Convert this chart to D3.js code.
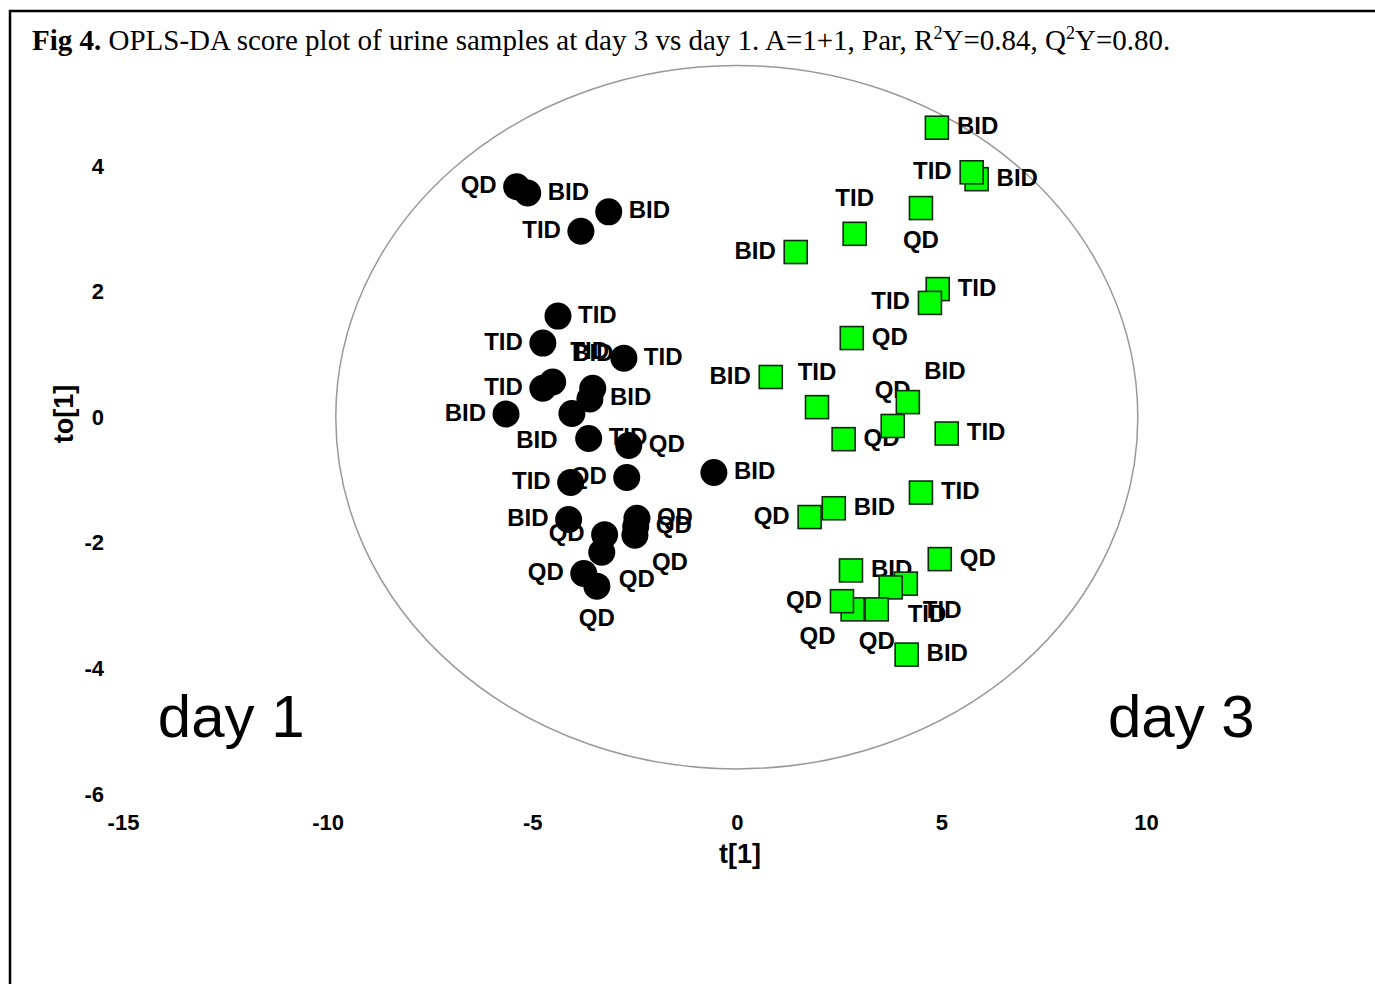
<!DOCTYPE html>
<html>
<head>
<meta charset="utf-8">
<script src="https://cdn.jsdelivr.net/npm/d3@7"></script>
<style>
  body { margin: 0; background: #fff; }
  .tick text { font-family: "Liberation Sans", Arial, sans-serif; font-weight: bold; font-size: 22px; fill: #000; }
  .lbl { font-family: "Liberation Sans", Arial, sans-serif; font-weight: bold; font-size: 24px; fill: #000; }
</style>
</head>
<body>
<script>
// day 1 samples (black circles)
var day1T  = [-5.38, -5.11, -3.13, -3.81, -4.37, -4.74, -2.76, -4.74, -4.50, -3.52, -3.59, -4.03, -5.64,
              -3.62, -2.64, -4.06, -2.69, -4.11, -3.23, -3.30, -2.44, -2.47, -2.49, -3.74, -3.42, -0.56];
var day1To = [3.67, 3.57, 3.27, 2.96, 1.61, 1.18, 0.94, 0.46, 0.56, 0.46, 0.29, 0.06, 0.05,
              -0.34, -0.45, -1.04, -0.96, -1.63, -1.87, -2.15, -1.61, -1.74, -1.88, -2.49, -2.69, -0.88];
var day1Lab = ["QD", "BID", "BID", "TID", "TID", "TID", "TID", "TID", "TID", "BID", "BID", "BID", "BID",
               "TID", "QD", "TID", "QD", "BID", "QD", "QD", "QD", "QD", "QD", "QD", "QD", "BID"];
var day1Side = ["W", "E", "E", "W", "E", "W", "E", "W", "NE", "N", "E", "SW", "W",
                "E", "E", "W", "W", "W", "W", "SE", "E", "E", "SE", "W", "S", "E"];

// day 3 samples (green squares)
var day3T  = [4.89, 5.86, 5.74, 4.50, 2.88, 1.44, 4.91, 4.72, 2.81, 0.83, 1.96, 4.18, 3.81,
              2.61, 5.13, 4.50, 2.37, 1.78, 4.96, 2.79, 4.13, 3.76, 2.83, 3.42, 2.57, 4.15];
var day3To = [4.61, 3.79, 3.90, 3.33, 2.92, 2.63, 2.04, 1.82, 1.26, 0.64, 0.16, 0.24, -0.14,
              -0.35, -0.26, -1.20, -1.45, -1.59, -2.26, -2.44, -2.65, -2.71, -3.06, -3.06, -2.93, -3.78];
var day3Lab = ["BID", "BID", "TID", "QD", "TID", "BID", "TID", "TID", "QD", "BID", "TID", "BID", "QD",
               "QD", "TID", "TID", "BID", "QD", "QD", "BID", "TID", "TID", "QD", "QD", "QD", "BID"];
var day3Side = ["E", "E", "W", "S", "N", "W", "E", "W", "E", "W", "N", "NE", "N",
                "E", "E", "E", "E", "W", "E", "E", "SE", "SE", "SW", "S", "W", "E"];

var xTicks = [-15, -10, -5, 0, 5, 10];
var yTicks = [-6, -4, -2, 0, 2, 4];

// 95% confidence ellipse half axes
var ellipseT = 9.8, ellipseTo = 5.6;

var width = 1375, height = 984;

var x = d3.scaleLinear().domain([-15, 10]).range([123, 1146]);
var y = d3.scaleLinear().domain([-6, 4]).range([794, 166]);

var svg = d3.select("body").append("svg")
  .attr("width", width)
  .attr("height", height);

// frame
svg.append("path")
  .attr("d", "M10,984 L10,11 L1375,11")
  .attr("fill", "none")
  .attr("stroke", "#000")
  .attr("stroke-width", 2.5);

// title
var title = svg.append("text")
  .attr("x", 32)
  .attr("y", 50)
  .style("font-family", "'Liberation Serif', 'Times New Roman', serif")
  .style("font-size", "29px");
title.append("tspan").style("font-weight", "bold").text("Fig 4.");
title.append("tspan").text(" OPLS-DA score plot of urine samples at day 3 vs day 1. A=1+1, Par, R");
title.append("tspan").attr("dy", -11).style("font-size", "18px").text("2");
title.append("tspan").attr("dy", 11).text("Y=0.84, Q");
title.append("tspan").attr("dy", -11).style("font-size", "18px").text("2");
title.append("tspan").attr("dy", 11).text("Y=0.80.");

// ellipse
svg.append("ellipse")
  .attr("cx", x(0))
  .attr("cy", y(0))
  .attr("rx", x(ellipseT) - x(0))
  .attr("ry", y(0) - y(ellipseTo))
  .attr("fill", "none")
  .attr("stroke", "#999")
  .attr("stroke-width", 1.5);

// axes (no lines, labels only)
var xAxis = svg.append("g")
  .attr("transform", "translate(0,806)")
  .call(d3.axisBottom(x).tickValues(xTicks).tickSize(0).tickPadding(8).tickFormat(function(d) { return String(d); }));
xAxis.select(".domain").remove();

var yAxis = svg.append("g")
  .attr("transform", "translate(112,0)")
  .call(d3.axisLeft(y).tickValues(yTicks).tickSize(0).tickPadding(8).tickFormat(function(d) { return String(d); }));
yAxis.select(".domain").remove();

svg.append("text")
  .attr("x", 740)
  .attr("y", 863)
  .attr("text-anchor", "middle")
  .style("font-family", "'Liberation Sans', Arial, sans-serif")
  .style("font-weight", "bold")
  .style("font-size", "27px")
  .text("t[1]");

svg.append("text")
  .attr("transform", "translate(73,414) rotate(-90)")
  .attr("text-anchor", "middle")
  .style("font-family", "'Liberation Sans', Arial, sans-serif")
  .style("font-weight", "bold")
  .style("font-size", "27px")
  .text("to[1]");

// group names
svg.append("text")
  .attr("x", x(-14.15))
  .attr("y", y(-5.1))
  .style("font-family", "'Liberation Sans', Arial, sans-serif")
  .style("font-size", "60px")
  .text("day 1");
svg.append("text")
  .attr("x", x(9.07))
  .attr("y", y(-5.1))
  .style("font-family", "'Liberation Sans', Arial, sans-serif")
  .style("font-size", "60px")
  .text("day 3");

// label placement around a mark
var side = {
  E:  {dx: 20,  dy: -2,  a: "start"},
  W:  {dx: -20, dy: -2,  a: "end"},
  N:  {dx: 0,   dy: -36, a: "middle"},
  S:  {dx: 0,   dy: 31,  a: "middle"},
  NE: {dx: 37,  dy: -32, a: "middle"},
  SE: {dx: 17,  dy: 26,  a: "start"},
  SW: {dx: -35, dy: 26,  a: "middle"}
};

var day1 = day1T.map(function(t, i) {
  return {t: t, to: day1To[i], lab: day1Lab[i], side: day1Side[i]};
});
var day3 = day3T.map(function(t, i) {
  return {t: t, to: day3To[i], lab: day3Lab[i], side: day3Side[i]};
});

function drawLabels(data) {
  svg.append("g").selectAll("text")
    .data(data)
    .enter().append("text")
    .attr("class", "lbl")
    .attr("x", function(d) { return x(d.t) + side[d.side].dx; })
    .attr("y", function(d) { return y(d.to) + side[d.side].dy + 8.5; })
    .attr("text-anchor", function(d) { return side[d.side].a; })
    .text(function(d) { return d.lab; });
}

drawLabels(day1);
drawLabels(day3);

svg.append("g").selectAll("circle")
  .data(day1)
  .enter().append("circle")
  .attr("cx", function(d) { return x(d.t); })
  .attr("cy", function(d) { return y(d.to); })
  .attr("r", 13.5)
  .attr("fill", "#000");

svg.append("g").selectAll("rect")
  .data(day3)
  .enter().append("rect")
  .attr("x", function(d) { return x(d.t) - 11.5; })
  .attr("y", function(d) { return y(d.to) - 11.5; })
  .attr("width", 23)
  .attr("height", 23)
  .attr("fill", "#00ff00")
  .attr("stroke", "#0b2b0b")
  .attr("stroke-width", 1.6);
</script>
</body>
</html>
